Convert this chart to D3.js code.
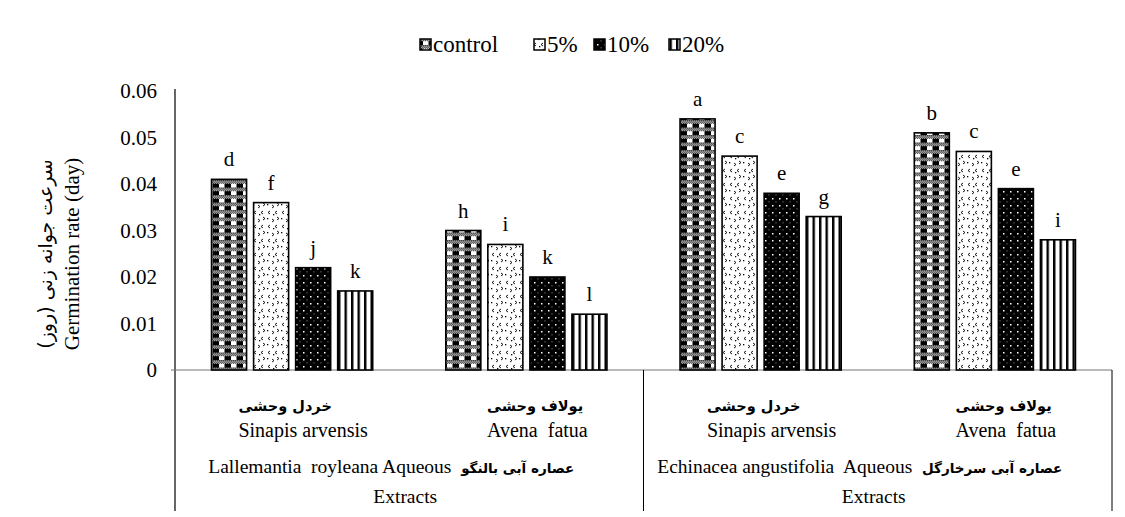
<!DOCTYPE html>
<html><head><meta charset="utf-8">
<script src="https://cdn.jsdelivr.net/npm/d3@7"></script>
<style>
body{margin:0;background:#fff;}
svg text{fill:#000;}
</style></head>
<body><svg id="c" width="1125" height="517"></svg>
<script>
const speciesEn = ["Sinapis arvensis","Avena  fatua","Sinapis arvensis","Avena  fatua"];
const speciesFa = ["خردل وحشی","یولاف وحشی","خردل وحشی","یولاف وحشی"];
const extractEn = ["Lallemantia  royleana Aqueous","Echinacea angustifolia  Aqueous"];
const extractFa = ["عصاره آبی بالنگو","عصاره آبی سرخارگل"];
const seriesNames = ["control","5%","10%","20%"];
const control = [0.041,0.030,0.054,0.051];
const p5      = [0.036,0.027,0.046,0.047];
const p10     = [0.022,0.020,0.038,0.039];
const p20     = [0.017,0.012,0.033,0.028];
const lControl = ["d","h","a","b"];
const l5       = ["f","i","c","c"];
const l10      = ["j","k","e","e"];
const l20      = ["k","l","g","i"];
const yTicks = [0,0.01,0.02,0.03,0.04,0.05,0.06];

const values = [control,p5,p10,p20];
const letters = [lControl,l5,l10,l20];
const SERIF = "Liberation Serif";
const FA = "DejaVu Sans";

const svg = d3.select("#c");
const pLeft = 175, pRight = 1112, pTop = 91, base = 370, bottomLine = 511;

const defs = svg.append("defs");
let p = defs.append("pattern").attr("id","pat0").attr("patternUnits","userSpaceOnUse").attr("width",12).attr("height",7.5);
p.append("rect").attr("width",12).attr("height",7.5).attr("fill","#000");
p.append("rect").attr("x",3).attr("y",3.5).attr("width",5.5).attr("height",4).attr("fill","#fff");
p.append("rect").attr("x",0).attr("y",0.5).attr("width",12).attr("height",3).attr("fill","#fff");
for(let i=0;i<12;i++){ p.append("rect").attr("x",i).attr("y",(i%2)?0.5:1.5).attr("width",1).attr("height",1).attr("fill","#000");
  if(i%2) p.append("rect").attr("x",i).attr("y",2.5).attr("width",1).attr("height",1).attr("fill","#000");}
p = defs.append("pattern").attr("id","pat1").attr("patternUnits","userSpaceOnUse").attr("width",14).attr("height",14);
p.append("rect").attr("width",14).attr("height",14).attr("fill","#fff");
p.append("path").attr("d","M4 1 L2 2.5 L4 4 M11 7 L13 8.5 L11 10 M6 9 L8 10.5 L6 12 M11 1 L9 2.5 L11 4").attr("stroke","#000").attr("stroke-width",0.9).attr("fill","none");
p.append("rect").attr("x",1).attr("y",8).attr("width",1.3).attr("height",1.3).attr("fill","#000");
p.append("rect").attr("x",7).attr("y",4).attr("width",1.3).attr("height",1.3).attr("fill","#000");
p = defs.append("pattern").attr("id","pat2").attr("patternUnits","userSpaceOnUse").attr("width",7).attr("height",7);
p.append("rect").attr("width",7).attr("height",7).attr("fill","#000");
p.append("rect").attr("x",2).attr("y",2).attr("width",1.5).attr("height",1.5).attr("fill","#fff");
p.append("rect").attr("x",5.5).attr("y",5.5).attr("width",1).attr("height",0.8).attr("fill","#bbb");
p = defs.append("pattern").attr("id","pat3").attr("patternUnits","userSpaceOnUse").attr("width",6.5).attr("height",10);
p.append("rect").attr("width",6.5).attr("height",10).attr("fill","#fff");
p.append("rect").attr("x",0).attr("width",2.4).attr("height",10).attr("fill","#000");

const x0 = d3.scaleBand().domain(d3.range(4)).range([pLeft,pRight]).paddingInner(0.312).paddingOuter(0.156);
const x1 = d3.scaleBand().domain(d3.range(4)).range([0,x0.bandwidth()]).paddingInner(0.167).paddingOuter(0);
const y = d3.scaleLinear().domain([0,0.06]).range([base,pTop]);

const yAxis = d3.axisLeft(y).tickValues(yTicks).tickSize(0).tickPadding(18).tickFormat(d=> d===0?"0":d3.format(".2f")(d));
const ga = svg.append("g").attr("transform",`translate(${pLeft},0)`).call(yAxis);
ga.attr("font-family",SERIF).attr("font-size",21);
ga.select(".domain").remove();
ga.selectAll("text").attr("fill","#000");

svg.append("line").attr("x1",pLeft).attr("x2",pLeft).attr("y1",pTop-2).attr("y2",bottomLine).attr("stroke","#000").attr("stroke-width",1.2);
svg.append("line").attr("x1",pLeft-4).attr("x2",pRight).attr("y1",base).attr("y2",base).attr("stroke","#777").attr("stroke-width",1.2);
const mid = (x0(1)+x0.bandwidth()+x0(2))/2;
svg.append("line").attr("x1",mid).attr("x2",mid).attr("y1",base).attr("y2",bottomLine).attr("stroke","#000").attr("stroke-width",1);
svg.append("line").attr("x1",pRight).attr("x2",pRight).attr("y1",base).attr("y2",bottomLine).attr("stroke","#000").attr("stroke-width",1);

for(let s=0;s<4;s++){
  const g = svg.append("g");
  g.selectAll("rect").data(values[s]).join("rect")
    .attr("x",(d,i)=>x0(i)+x1(s)).attr("width",x1.bandwidth())
    .attr("y",d=>y(d)).attr("height",d=>base-y(d))
    .attr("fill",`url(#pat${s})`).attr("stroke","#000").attr("stroke-width",1.6);
  g.selectAll("text").data(values[s]).join("text")
    .attr("x",(d,i)=>x0(i)+x1(s)+x1.bandwidth()/2).attr("y",d=>y(d)-13)
    .attr("text-anchor","middle").attr("font-family",SERIF).attr("font-size",21).text((d,i)=>letters[s][i]);
}

const enLabels = svg.append("g").selectAll("text").data(speciesEn).join("text")
  .attr("x",(d,i)=>x0(i)+x0.bandwidth()/2+11).attr("y",437).attr("text-anchor","middle")
  .attr("font-family",SERIF).attr("font-size",20).style("white-space","pre").text(d=>d);
const enStarts = enLabels.nodes().map((n,i)=> x0(i)+x0.bandwidth()/2+11 - n.getComputedTextLength()/2);
svg.append("g").selectAll("text").data(speciesFa).join("text")
  .attr("font-family",FA).attr("x",(d,i)=>enStarts[i]).attr("y",411).attr("text-anchor","start")
  .attr("font-size",14.5).attr("font-weight","bold").text(d=>d);

const groupCenters = [(pLeft+mid)/2,(mid+pRight)/2];
extractEn.forEach((e,i)=>{
  const t = svg.append("text").attr("x",groupCenters[i]-18).attr("y",473).attr("text-anchor","middle").attr("font-family",SERIF).attr("font-size",19.5).style("white-space","pre");
  t.append("tspan").text(e+"  ");
  t.append("tspan").attr("font-family",FA).attr("font-size",13.5).attr("font-weight","bold").text(extractFa[i]);
  svg.append("text").attr("x",groupCenters[i]-4).attr("y",503).attr("text-anchor","middle").attr("font-family",SERIF).attr("font-size",19.5).text("Extracts");
});

const yt = svg.append("g").attr("transform","translate(0,254) rotate(-90)");
yt.append("text").attr("font-family",FA).attr("x",0).attr("y",52).attr("text-anchor","middle").attr("font-size",19).text("سرعت جوانه زنی (روز)");
yt.append("text").attr("x",0).attr("y",79).attr("text-anchor","middle").attr("font-family",SERIF).attr("font-size",21).text("Germination rate (day)");

const legX = [420,534,594,669];
const lg = svg.append("g");
seriesNames.forEach((n,i)=>{
  lg.append("rect").attr("x",legX[i]).attr("y",39).attr("width",11).attr("height",11).attr("fill",`url(#pat${i})`).attr("stroke","#000").attr("stroke-width",1.5);
  lg.append("text").attr("x",legX[i]+13).attr("y",52).attr("font-family",SERIF).attr("font-size",23).text(n);
});
</script></body></html>
